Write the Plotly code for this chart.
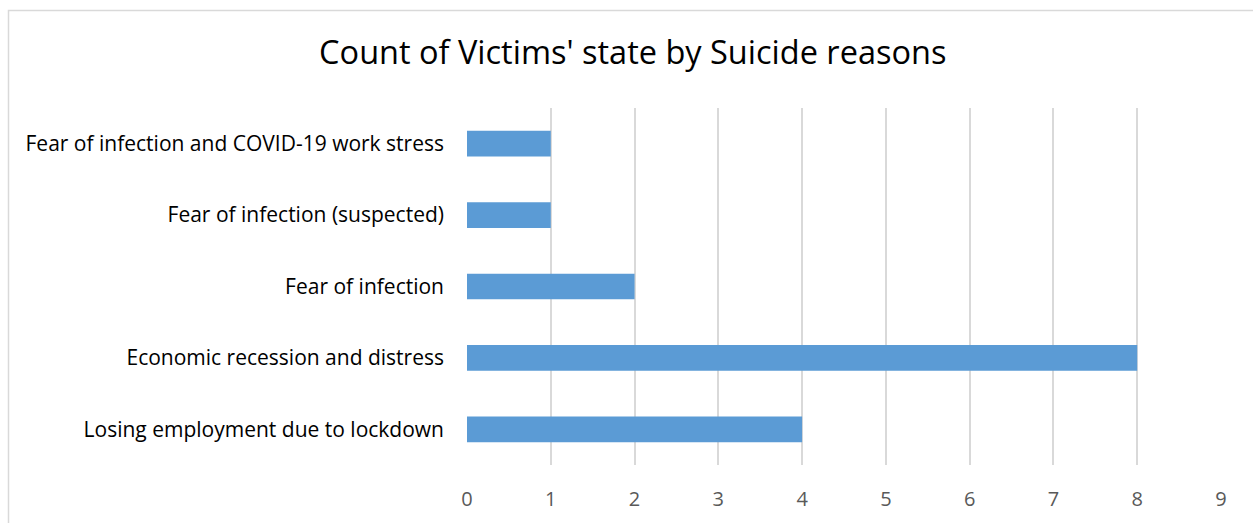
import plotly.graph_objects as go

reasons = [
    "Losing employment due to lockdown",
    "Economic recession and distress",
    "Fear of infection",
    "Fear of infection (suspected)",
    "Fear of infection and COVID-19 work stress",
]
counts = [4, 8, 2, 1, 1]
x_ticks = list(range(0, 10))

FONT = "Open Sans"

fig = go.Figure(
    go.Bar(
        x=counts,
        y=reasons,
        orientation="h",
        marker=dict(color="#5b9bd5", line=dict(width=0)),
        width=0.36,
    )
)

L, R, T, B = 467, 32, 108, 58
W, H = 1253, 523
pw = W - L - R
ph = H - T - B

def px_x(px):
    return (px - L) / pw

def px_y(py):
    return 1 - (py - T) / ph

fig.update_layout(
    width=W,
    height=H,
    margin=dict(l=L, r=R, t=T, b=B, pad=0),
    paper_bgcolor="white",
    plot_bgcolor="white",
    showlegend=False,
    title=dict(
        text="Count of Victims' state by Suicide reasons",
        x=0.505,
        xanchor="center",
        y=1 - 53 / H,
        yanchor="middle",
        font=dict(family=FONT, size=32.5, color="#000000"),
    ),
    xaxis=dict(
        range=[0, 9],
        tickvals=x_ticks,
        showgrid=True,
        gridcolor="#d9d9d9",
        gridwidth=1.5,
        zeroline=False,
        showline=False,
        ticks="",
        ticklabelstandoff=20,
        tickfont=dict(family=FONT, size=20, color="#595959"),
    ),
    yaxis=dict(
        showgrid=False,
        zeroline=False,
        showline=False,
        ticks="",
        ticklabelstandoff=22,
        tickfont=dict(family=FONT, size=21, color="#000000"),
    ),
    shapes=[
        dict(
            type="rect",
            xref="paper",
            yref="paper",
            x0=px_x(8.5),
            x1=px_x(1270),
            y0=px_y(540),
            y1=px_y(10.5),
            line=dict(color="#d9d9d9", width=1.5),
            fillcolor="rgba(0,0,0,0)",
            layer="below",
        )
    ],
)

fig.write_html("out.html")
